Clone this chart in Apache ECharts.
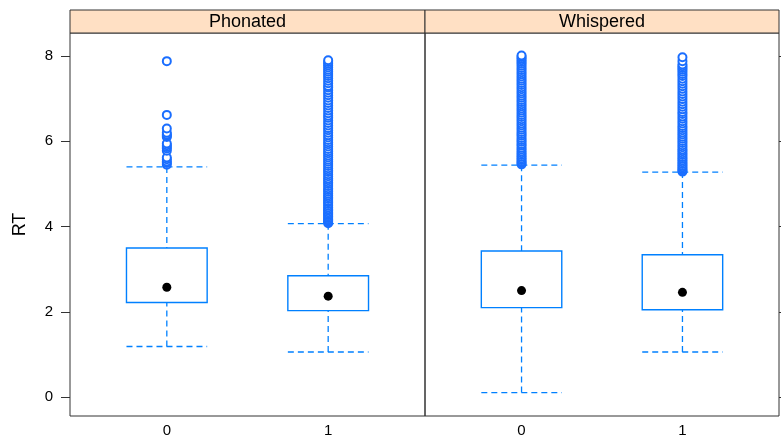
<!DOCTYPE html>
<html>
<head>
<meta charset="utf-8">
<script src="https://cdn.jsdelivr.net/npm/echarts@6/dist/echarts.min.js"></script>
<style>html,body{margin:0;padding:0;background:#fff;}#main{width:781px;height:435px;}</style>
</head>
<body>
<div id="main"></div>
<script>
// ---- data ----
const categories = ['0', '1'];
const panels = ['Phonated', 'Whispered'];
const yTicks = [0, 2, 4, 6, 8];
// per category: [lower whisker, Q1, median, Q3, upper whisker]
const phonatedBox = [[1.19, 2.22, 2.58, 3.50, 5.40], [1.06, 2.03, 2.37, 2.85, 4.07]];
const whisperedBox = [[0.11, 2.10, 2.50, 3.43, 5.44], [1.06, 2.05, 2.46, 3.34, 5.28]];
const phonatedOut0 = [5.45, 5.49, 5.53, 5.58, 5.62, 5.78, 5.83, 5.87, 5.91, 5.95, 6.10, 6.13, 6.16, 6.20, 6.30, 6.62, 7.88];
const phonatedOut1 = [4.08, 4.11, 4.14, 4.17, 4.20, 4.24, 4.27, 4.30, 4.34, 4.38, 4.41, 4.45, 4.49, 4.53, 4.57, 4.60, 4.65, 4.69, 4.73, 4.77, 4.82, 4.86, 4.90, 4.95, 5.00, 5.04, 5.09, 5.13, 5.18, 5.23, 5.28, 5.32, 5.37, 5.42, 5.47, 5.52, 5.57, 5.62, 5.67, 5.72, 5.77, 5.82, 5.88, 5.93, 5.98, 6.03, 6.09, 6.14, 6.20, 6.26, 6.31, 6.37, 6.43, 6.49, 6.55, 6.60, 6.66, 6.72, 6.78, 6.84, 6.90, 6.96, 7.02, 7.08, 7.14, 7.20, 7.26, 7.30, 7.36, 7.42, 7.48, 7.53, 7.58, 7.63, 7.68, 7.73, 7.78, 7.82, 7.86, 7.90];
const whisperedOut0 = [5.46, 5.49, 5.52, 5.56, 5.60, 5.64, 5.68, 5.72, 5.76, 5.81, 5.85, 5.90, 5.94, 5.99, 6.03, 6.08, 6.13, 6.17, 6.22, 6.27, 6.32, 6.37, 6.42, 6.47, 6.52, 6.57, 6.62, 6.67, 6.72, 6.77, 6.82, 6.87, 6.92, 6.97, 7.02, 7.07, 7.12, 7.17, 7.22, 7.27, 7.32, 7.37, 7.42, 7.47, 7.52, 7.57, 7.62, 7.67, 7.72, 7.77, 7.82, 7.86, 7.90, 7.94, 7.98, 8.01];
const whisperedOut1 = [5.29, 5.32, 5.35, 5.39, 5.43, 5.47, 5.51, 5.55, 5.59, 5.63, 5.68, 5.72, 5.77, 5.81, 5.86, 5.91, 5.96, 6.01, 6.06, 6.11, 6.16, 6.21, 6.26, 6.31, 6.36, 6.42, 6.47, 6.53, 6.58, 6.64, 6.69, 6.75, 6.81, 6.87, 6.93, 6.99, 7.05, 7.11, 7.17, 7.23, 7.29, 7.35, 7.41, 7.47, 7.53, 7.58, 7.63, 7.68, 7.72, 7.76, 7.80, 7.88, 7.97];

// ---- layout ----
const L = { top: 33, bottom: 416, stripTop: 10, x0: 70, x1: 425, x2: 779 };
const boxColor = '#0080ff';
const outColor = '#1a6eff';

const chart = echarts.init(document.getElementById('main'), null, { renderer: 'canvas' });

const boxes = [phonatedBox, whisperedBox];
const outs = [[phonatedOut0, phonatedOut1], [whisperedOut0, whisperedOut1]];

function renderBox(params, api) {
  const x = api.value(0);
  const lo = api.coord([x, api.value(1)]);
  const q1 = api.coord([x, api.value(2)]);
  const q3 = api.coord([x, api.value(4)]);
  const hi = api.coord([x, api.value(5)]);
  const hw = api.size([0.5, 0])[0] / 2;
  const dash = { stroke: boxColor, lineWidth: 1.3, lineDash: [6, 4], fill: null };
  return {
    type: 'group',
    children: [
      { type: 'line', shape: { x1: hi[0], y1: hi[1], x2: q3[0], y2: q3[1] }, style: dash },
      { type: 'line', shape: { x1: lo[0], y1: lo[1], x2: q1[0], y2: q1[1] }, style: dash },
      { type: 'line', shape: { x1: hi[0] - hw, y1: hi[1], x2: hi[0] + hw, y2: hi[1] }, style: dash },
      { type: 'line', shape: { x1: lo[0] - hw, y1: lo[1], x2: lo[0] + hw, y2: lo[1] }, style: dash },
      { type: 'rect', shape: { x: q3[0] - hw, y: q3[1], width: 2 * hw, height: q1[1] - q3[1] },
        style: { stroke: boxColor, lineWidth: 1.4, fill: '#fff' } }
    ]
  };
}

const grids = [], xAxes = [], yAxes = [], series = [], graphics = [];
panels.forEach((name, p) => {
  const left = p === 0 ? L.x0 : L.x1;
  const right = p === 0 ? L.x1 : L.x2;
  grids.push({ left: left, width: right - left, top: L.top, height: L.bottom - L.top,
    show: true, borderColor: '#333', borderWidth: 1, backgroundColor: 'transparent',
    containLabel: false, outerBoundsMode: 'none' });
  xAxes.push({ type: 'value', gridIndex: p, min: 0.4, max: 2.6,
    splitLine: { show: false }, axisLine: { show: false }, axisTick: { show: false },
    axisLabel: { customValues: [1, 2], formatter: v => categories[Math.round(v) - 1],
      fontFamily: 'Liberation Sans, Arial, sans-serif', fontSize: 15, color: '#000', margin: 7 } });
  yAxes.push({ type: 'value', gridIndex: p, min: -0.44, max: 8.54,
    position: p === 0 ? 'left' : 'right',
    name: p === 0 ? 'RT' : '', nameLocation: 'middle', nameRotate: 90, nameGap: 41,
    nameTextStyle: { fontFamily: 'Liberation Sans, Arial, sans-serif', fontSize: 18, color: '#000' },
    splitLine: { show: false }, axisLine: { show: false },
    axisTick: { show: true, inside: false, length: 9, customValues: yTicks, lineStyle: { color: '#333', width: 1 } },
    axisLabel: { show: p === 0, customValues: yTicks, fontFamily: 'Liberation Sans, Arial, sans-serif',
      fontSize: 15, color: '#000', margin: 17 } });
  series.push({ type: 'custom', xAxisIndex: p, yAxisIndex: p, renderItem: renderBox,
    encode: { x: 0, y: [1, 2, 3, 4, 5] }, z: 2,
    data: boxes[p].map((b, i) => [i + 1].concat(b)) });
  const outData = [];
  outs[p].forEach((arr, i) => arr.forEach(v => outData.push([i + 1, v])));
  series.push({ type: 'scatter', xAxisIndex: p, yAxisIndex: p, symbol: 'emptyCircle', symbolSize: 8, z: 3,
    itemStyle: { color: outColor, borderColor: outColor, borderWidth: 1.3, opacity: 1 }, data: outData });
  series.push({ type: 'scatter', xAxisIndex: p, yAxisIndex: p, symbol: 'circle', symbolSize: 9, z: 4,
    itemStyle: { color: '#000', opacity: 1 }, data: boxes[p].map((b, i) => [i + 1, b[2]]) });
  graphics.push({ type: 'rect', shape: { x: left, y: L.stripTop, width: right - left, height: L.top - L.stripTop },
    style: { fill: '#ffe0c4', stroke: '#333', lineWidth: 1 }, z: 10 });
  graphics.push({ type: 'text', x: (left + right) / 2, y: (L.stripTop + L.top) / 2 + 1,
    style: { text: name, fill: '#000', font: '18px "Liberation Sans", Arial, sans-serif', align: 'center', verticalAlign: 'middle' }, z: 11 });
});

chart.setOption({
  animation: false,
  backgroundColor: '#fff',
  grid: grids,
  xAxis: xAxes,
  yAxis: yAxes,
  series: series,
  graphic: graphics
});
</script>
</body>
</html>
